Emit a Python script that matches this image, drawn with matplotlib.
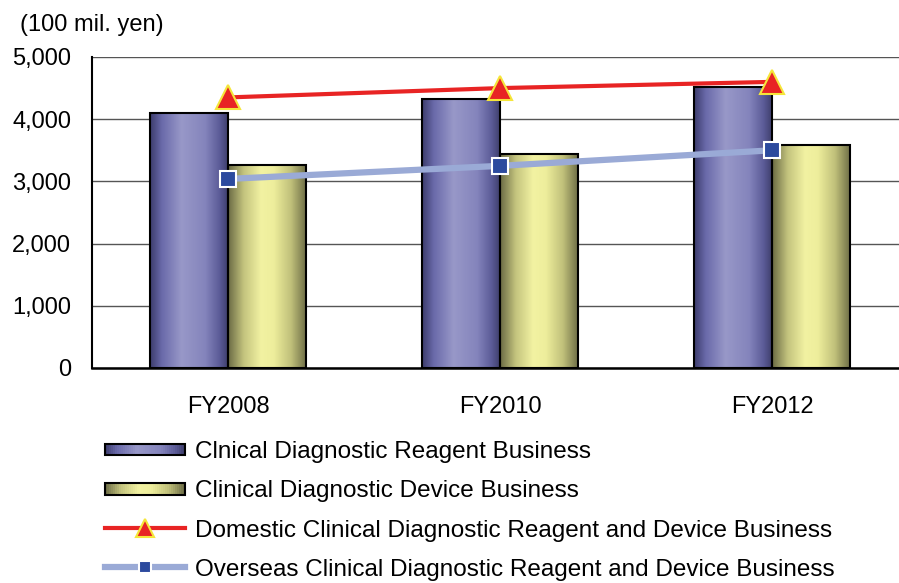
import matplotlib
matplotlib.use("Agg")
import matplotlib.pyplot as plt
import numpy as np
from matplotlib.colors import LinearSegmentedColormap
from matplotlib.patches import Rectangle
from matplotlib.legend_handler import HandlerBase

plt.rcParams['font.family'] = ['Liberation Sans', 'DejaVu Sans']

categories = ["FY2008", "FY2010", "FY2012"]
reagent = [4100, 4320, 4510]
device = [3270, 3440, 3580]
domestic = [4350, 4500, 4600]
overseas = [3040, 3250, 3500]
labels = ["Clnical Diagnostic Reagent Business",
          "Clinical Diagnostic Device Business",
          "Domestic Clinical Diagnostic Reagent and Device Business",
          "Overseas Clinical Diagnostic Reagent and Device Business"]
yticks = [0, 1000, 2000, 3000, 4000, 5000]

FS = 17
LFS = 17.5

reagent_cmap = LinearSegmentedColormap.from_list(
    "reag", [(0, "#3c3c6c"), (0.15, "#6a6aaa"), (0.4, "#9898c8"),
             (0.7, "#8484bc"), (0.88, "#5c5c98"), (1, "#3c3c68")])
device_cmap = LinearSegmentedColormap.from_list(
    "dev", [(0, "#6a6a44"), (0.2, "#c4c47e"), (0.42, "#f2f2a2"),
            (0.58, "#eeee9c"), (0.8, "#c0c07a"), (1, "#6a6a44")])

fig = plt.figure(figsize=(8.99, 5.83), dpi=100)
ax = fig.add_axes([92/899, 1-368/583, 1-92/899, (368-57)/583])

x = np.arange(len(categories))
w = 0.288
grad = np.linspace(0, 1, 256).reshape(1, -1)
XLIM = (-0.5, 2.467)

def grad_bars(xs, vals, cmap):
    bars = ax.bar(xs, vals, width=w, align='edge', facecolor='none',
                  edgecolor='black', linewidth=1.5, zorder=3)
    for b in bars:
        x0, y0 = b.get_x(), b.get_y()
        im = ax.imshow(grad, cmap=cmap, aspect='auto',
                       extent=(x0, x0 + b.get_width(), y0, y0 + b.get_height()),
                       zorder=2, interpolation='bilinear')
        im.set_clip_path(b)
    return bars

grad_bars(x - w, reagent, reagent_cmap)
grad_bars(x, device, device_cmap)
ax.set_xlim(*XLIM)
ax.set_ylim(0, 5000)
ax.set_aspect('auto')

ax.plot(x, overseas, color="#9aaad6", lw=4.5, marker='s', markersize=11.5,
        markerfacecolor="#2c4a9e", markeredgecolor="white", markeredgewidth=1.5,
        zorder=5)
ax.plot(x, domestic, color="#e82424", lw=3, marker='^', markersize=17,
        markerfacecolor="#e82424", markeredgecolor="#f5e63a", markeredgewidth=1.5,
        zorder=6)

ax.set_yticks(yticks)
ax.set_yticklabels([f"{v:,}" for v in yticks], fontsize=FS)
ax.set_xticks(x)
ax.set_xticklabels(categories, fontsize=FS)
ax.tick_params(axis='x', length=0, pad=20)
ax.tick_params(axis='y', length=0, pad=15)
ax.yaxis.grid(True, color="#555555", lw=1)
ax.set_axisbelow(True)
for s in ['top', 'right']:
    ax.spines[s].set_visible(False)
ax.spines['left'].set_linewidth(1.5)
ax.spines['bottom'].set_linewidth(1.8)

fig.text(20/899, 1-25/583, "(100 mil. yen)", fontsize=FS, va='center', ha='left')

class GradHandler(HandlerBase):
    def __init__(self, cmap):
        super().__init__()
        self.cmap = cmap
    def create_artists(self, legend, orig_handle, xdescent, ydescent, width, height, fontsize, trans):
        arts = []
        n = 40
        h = height * 0.68
        y0 = -ydescent + (height - h) / 2
        for i in range(n):
            r = Rectangle((-xdescent + width * i / n, y0), width / n + 0.3, h,
                          facecolor=self.cmap((i + 0.5) / n), edgecolor='none',
                          transform=trans)
            arts.append(r)
        arts.append(Rectangle((-xdescent, y0), width, h, facecolor='none',
                              edgecolor='black', lw=1.5, transform=trans))
        return arts

h1 = Rectangle((0, 0), 1, 1)
h2 = Rectangle((0, 0), 1, 1)
h3, = ax.plot([], [], color="#e82424", lw=3, marker='^', markersize=13,
              markerfacecolor="#e82424", markeredgecolor="#f5e63a", markeredgewidth=1.5)
h4, = ax.plot([], [], color="#9aaad6", lw=4.5, marker='s', markersize=9,
              markerfacecolor="#2c4a9e", markeredgecolor="white", markeredgewidth=1.5)
leg = fig.legend([h1, h2, h3, h4], labels, loc='upper left',
                 bbox_to_anchor=(105/899, 1-441/583), frameon=False, fontsize=LFS,
                 handlelength=80/(LFS*100/72), handletextpad=0.4, labelspacing=0.71,
                 handler_map={h1: GradHandler(reagent_cmap), h2: GradHandler(device_cmap)},
                 numpoints=1, borderaxespad=0, borderpad=0)

fig.savefig("out.png", dpi=100)
